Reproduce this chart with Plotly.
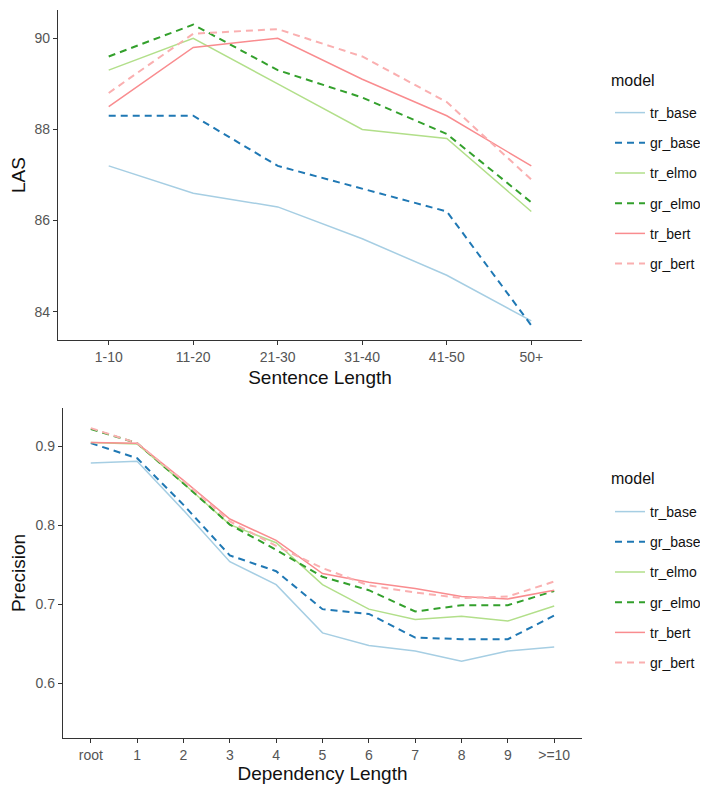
import plotly.graph_objects as go

# ---------------- data ----------------
models = ["tr_base", "gr_base", "tr_elmo", "gr_elmo", "tr_bert", "gr_bert"]

sent_len = ["1-10", "11-20", "21-30", "31-40", "41-50", "50+"]
las_tr_base = [87.2, 86.6, 86.3, 85.6, 84.8, 83.8]
las_gr_base = [88.3, 88.3, 87.2, 86.7, 86.2, 83.7]
las_tr_elmo = [89.3, 90.0, 89.0, 88.0, 87.8, 86.2]
las_gr_elmo = [89.6, 90.3, 89.3, 88.7, 87.9, 86.4]
las_tr_bert = [88.5, 89.8, 90.0, 89.1, 88.3, 87.2]
las_gr_bert = [88.8, 90.1, 90.2, 89.6, 88.6, 86.9]

dep_len = ["root", "1", "2", "3", "4", "5", "6", "7", "8", "9", ">=10"]
prec_tr_base = [0.879, 0.881, 0.819, 0.754, 0.725, 0.664, 0.648, 0.641, 0.628, 0.641, 0.646]
prec_gr_base = [0.904, 0.885, 0.826, 0.762, 0.742, 0.694, 0.688, 0.658, 0.656, 0.656, 0.686]
prec_tr_elmo = [0.905, 0.903, 0.853, 0.801, 0.778, 0.725, 0.694, 0.681, 0.685, 0.679, 0.698]
prec_gr_elmo = [0.922, 0.904, 0.853, 0.801, 0.769, 0.735, 0.718, 0.691, 0.699, 0.699, 0.717]
prec_tr_bert = [0.905, 0.904, 0.857, 0.808, 0.781, 0.739, 0.728, 0.720, 0.710, 0.707, 0.718]
prec_gr_bert = [0.923, 0.904, 0.856, 0.805, 0.774, 0.746, 0.724, 0.715, 0.708, 0.710, 0.729]

las_values = [las_tr_base, las_gr_base, las_tr_elmo, las_gr_elmo, las_tr_bert, las_gr_bert]
prec_values = [prec_tr_base, prec_gr_base, prec_tr_elmo, prec_gr_elmo, prec_tr_bert, prec_gr_bert]

colors = ["#A6CEE3", "#1F78B4", "#B2DF8A", "#33A02C", "#F98C8F", "#FAAFB0"]
dashes = ["solid", "7px,5px", "solid", "7px,5px", "solid", "7px,5px"]
widths = [1.5, 2.0, 1.5, 2.0, 1.5, 2.0]

FONT = "Liberation Sans, Arial, Helvetica, sans-serif"

fig = go.Figure()
for i, m in enumerate(models):
    fig.add_trace(go.Scatter(
        x=sent_len, y=las_values[i], mode="lines", name=m,
        line=dict(color=colors[i], dash=dashes[i], width=widths[i]),
        xaxis="x", yaxis="y", legend="legend", legendgroup="a" + m,
    ))
for i, m in enumerate(models):
    fig.add_trace(go.Scatter(
        x=dep_len, y=prec_values[i], mode="lines", name=m,
        line=dict(color=colors[i], dash=dashes[i], width=widths[i]),
        xaxis="x2", yaxis="y2", legend="legend2", legendgroup="b" + m,
    ))

# page body has an 8px default margin: figure is 700x777 placed at (8, 8)
OFF = 8
W, H = 700, 777


def px(x):
    return (x - OFF) / W


def py(y):
    return 1 - (y - OFF) / H


axis_common = dict(
    showgrid=False, zeroline=False, showline=True, linecolor="#333333", linewidth=1.3,
    ticks="outside", ticklen=4, tickwidth=1.2, tickcolor="#333333", automargin=False,
    tickfont=dict(family=FONT, size=14, color="#555555"),
    title_font=dict(family=FONT, size=19, color="#111111"),
)

legend_common = dict(
    font=dict(family=FONT, size=14, color="#111111"),
    tracegroupgap=9, xanchor="left", yanchor="top", bgcolor="rgba(0,0,0,0)",
)

fig.update_layout(
    width=W, height=H, margin=dict(l=0, r=0, t=0, b=0),
    paper_bgcolor="white", plot_bgcolor="white",
    xaxis=dict(axis_common, domain=[px(58), px(582)], anchor="y", type="category",
               range=[-0.6, 5.6], title=dict(text="Sentence Length", standoff=6)),
    yaxis=dict(axis_common, domain=[py(340), py(10)], anchor="x",
               range=[83.38, 90.62], tickvals=[84, 86, 88, 90],
               title=dict(text="LAS", standoff=7)),
    xaxis2=dict(axis_common, domain=[px(63), px(582)], anchor="y2", type="category",
                range=[-0.6, 10.6], title=dict(text="Dependency Length", standoff=0)),
    yaxis2=dict(axis_common, domain=[py(738), py(408)], anchor="x2",
                range=[0.531, 0.9485], tickvals=[0.6, 0.7, 0.8, 0.9],
                title=dict(text="Precision", standoff=6)),
    legend=dict(legend_common, x=px(610), y=py(97)),
    legend2=dict(legend_common, x=px(610), y=py(496)),
    annotations=[
        dict(text="model", xref="paper", yref="paper", x=px(609), y=py(81),
             xanchor="left", yanchor="middle", showarrow=False,
             font=dict(family=FONT, size=16, color="#111111")),
        dict(text="model", xref="paper", yref="paper", x=px(609), y=py(478),
             xanchor="left", yanchor="middle", showarrow=False,
             font=dict(family=FONT, size=16, color="#111111")),
    ],
)

fig.write_html("out.html")
